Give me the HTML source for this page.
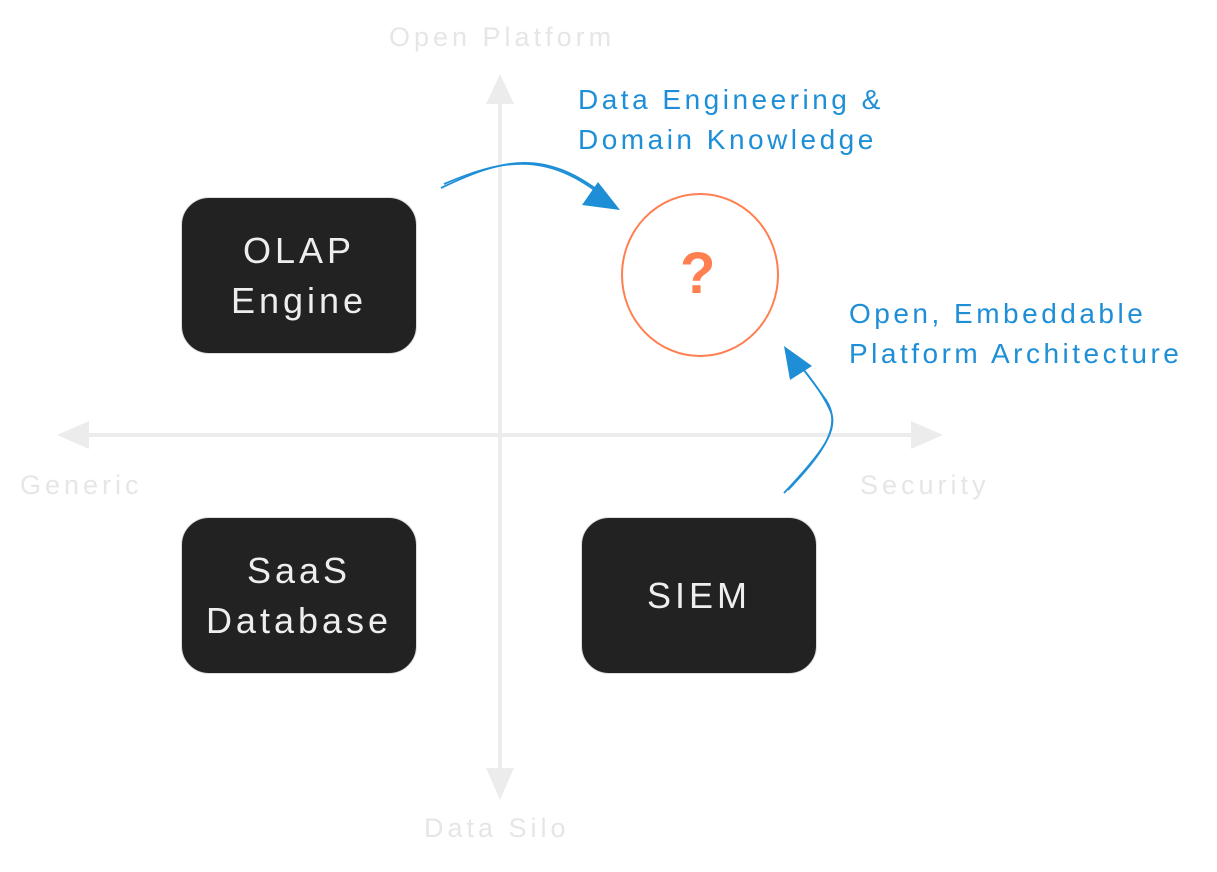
<!DOCTYPE html>
<html><head><meta charset="utf-8"><style>
html,body{margin:0;padding:0;background:#fff;}
body{width:1217px;height:872px;position:relative;overflow:hidden;font-family:"Liberation Sans",sans-serif;}
.t{position:absolute;white-space:nowrap;}
.g{color:#e6e6e6;font-size:27px;letter-spacing:4px;}
.b{color:#1e8fd6;font-size:28px;line-height:40px;letter-spacing:3.5px;}
.box{position:absolute;width:236px;height:157px;background:#222;border:1.5px solid #ddd;border-radius:28px;box-sizing:border-box;color:#eee;font-size:36px;line-height:50px;letter-spacing:4px;text-align:center;display:flex;align-items:center;justify-content:center;}
</style></head><body>
<svg width="1217" height="872" style="position:absolute;left:0;top:0">
<g stroke="#ececec" stroke-width="4" fill="#ececec">
<line x1="500" y1="100" x2="500" y2="775"/>
<line x1="85" y1="435" x2="915" y2="435"/>
<polygon points="500,74 486,104 514,104" stroke="none"/>
<polygon points="500,800 486,768 514,768" stroke="none"/>
<polygon points="57,435 89,421 89,449" stroke="none"/>
<polygon points="943,435 911,421 911,449" stroke="none"/>
</g>
<ellipse cx="700" cy="275" rx="78" ry="81" fill="none" stroke="#ff7f50" stroke-width="2"/>
<g stroke="#1e8fd6" stroke-width="1.8" fill="none">
<path d="M441 188 C500 160 545 145 610 200"/>
<path d="M444 184 C505 158 550 150 612 204"/>
<path d="M784 493 C820 455 840 430 830 410 C822 392 805 370 788 352"/>
<path d="M788 490 C826 450 842 425 826 400 C815 385 805 370 792 356"/>
</g>
<polygon points="620,210 582,205 598,182" fill="#1e8fd6"/>
<polygon points="784,346 812,366 790,380" fill="#1e8fd6"/>
</svg>
<div class="t g" style="left:389px;top:22px;">Open Platform</div>
<div class="t g" style="left:20px;top:470px;">Generic</div>
<div class="t g" style="left:860px;top:470px;">Security</div>
<div class="t g" style="left:424px;top:813px;">Data Silo</div>
<div class="t b" style="left:578px;top:80px;">Data Engineering &amp;<br>Domain Knowledge</div>
<div class="t b" style="left:849px;top:294px;">Open, Embeddable<br>Platform Architecture</div>
<div class="box" style="left:181px;top:197px;">OLAP<br>Engine</div>
<div class="box" style="left:181px;top:517px;">SaaS<br>Database</div>
<div class="box" style="left:581px;top:517px;">SIEM</div>
<div class="t" style="left:680px;top:240px;color:#ff7f50;font-size:58px;font-weight:bold;">?</div>
</body></html>
